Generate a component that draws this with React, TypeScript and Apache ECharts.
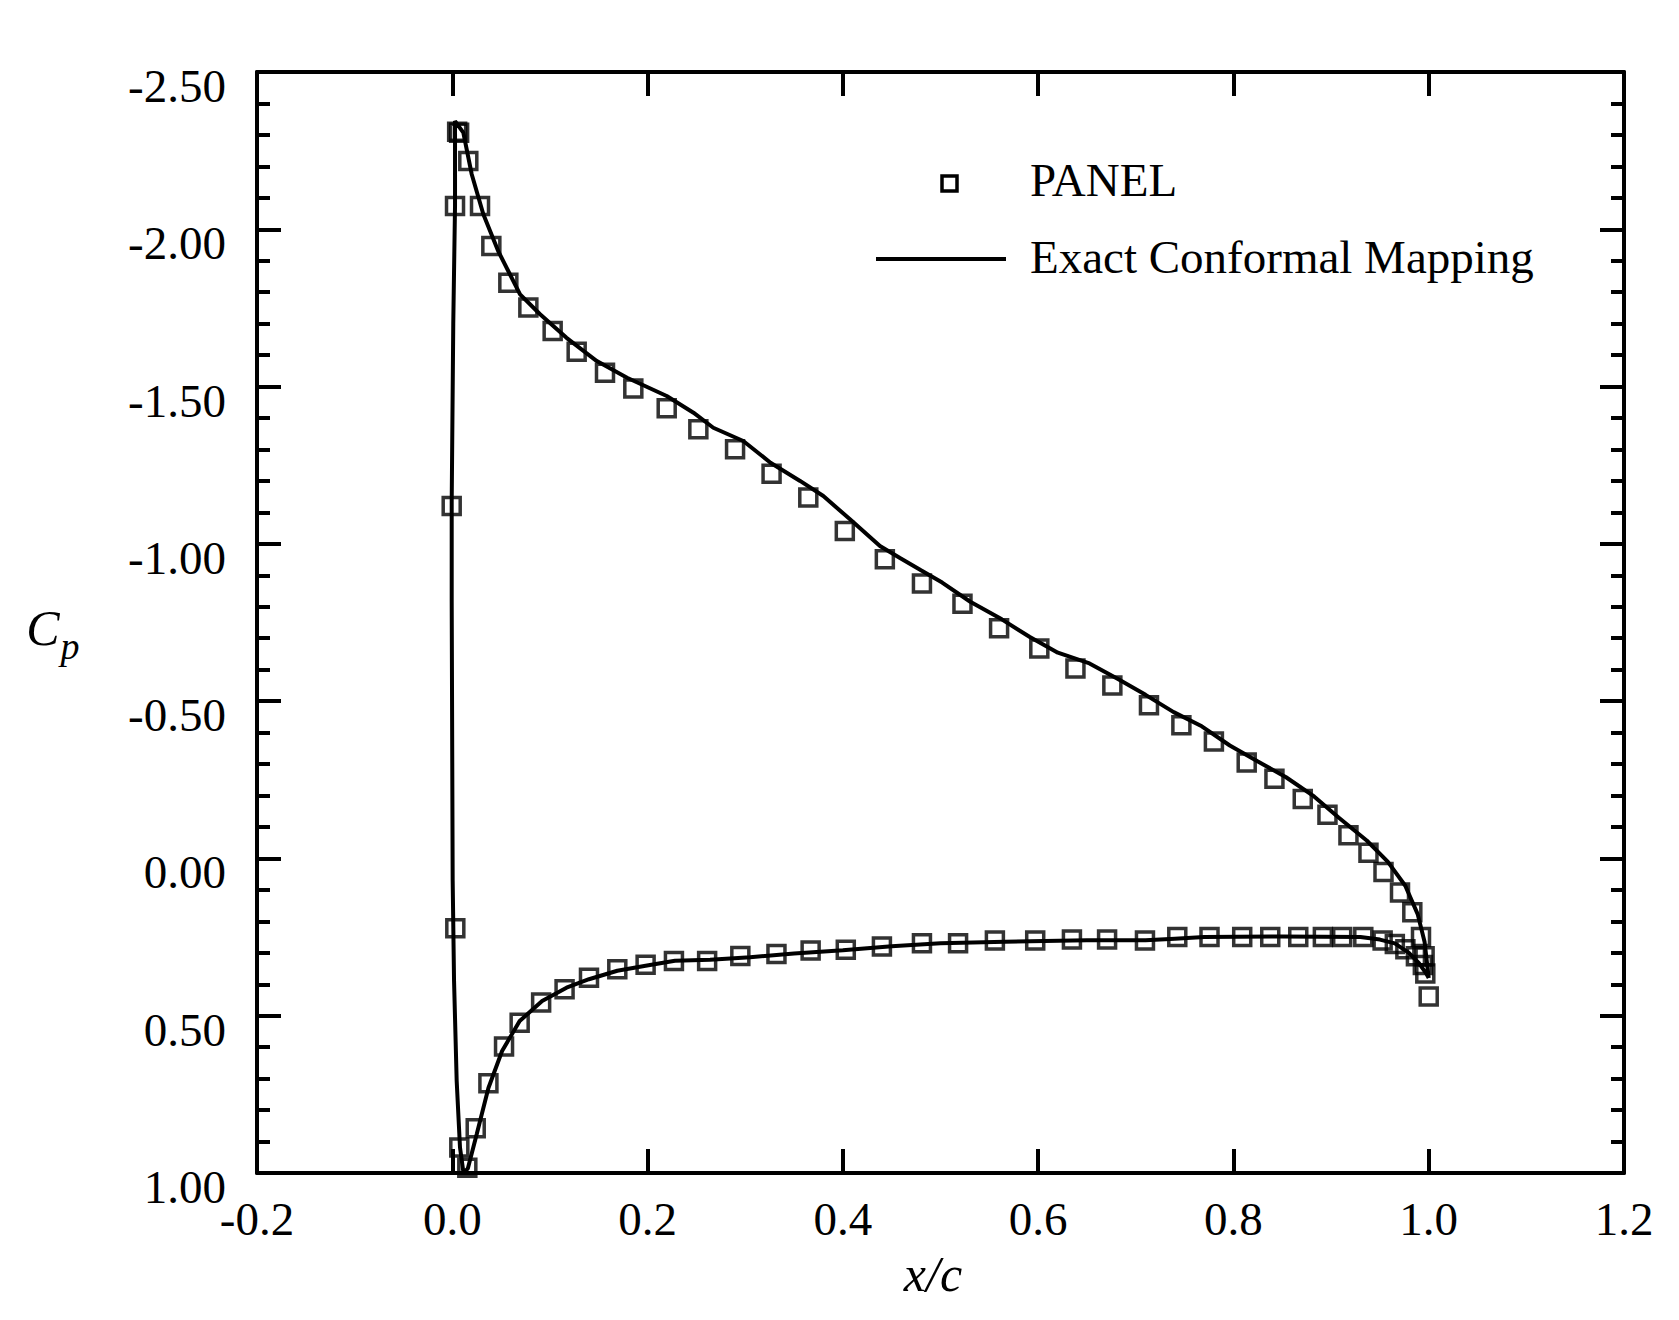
import React, { useEffect, useRef } from 'react';
import * as echarts from 'echarts';

// PANEL method results (squares)
const panelUpperX = [0.005, 0.007, 0.0164, 0.0284, 0.040, 0.0574, 0.0779, 0.1028, 0.1274, 0.1564, 0.1854, 0.2196, 0.252, 0.2896, 0.327, 0.3646, 0.402, 0.443, 0.481, 0.5225, 0.560, 0.6012, 0.6382, 0.676, 0.7135, 0.7467, 0.780, 0.8136, 0.842, 0.871, 0.8963, 0.9178, 0.9383, 0.9537, 0.9706, 0.9832, 0.9921, 0.9958, 0.9965, 1.0];
const panelUpperCp = [-2.31, -2.307, -2.217, -2.074, -1.947, -1.830, -1.751, -1.677, -1.611, -1.544, -1.494, -1.431, -1.364, -1.301, -1.223, -1.147, -1.041, -0.951, -0.874, -0.810, -0.732, -0.667, -0.604, -0.550, -0.487, -0.423, -0.372, -0.305, -0.253, -0.189, -0.139, -0.074, -0.018, 0.043, 0.108, 0.171, 0.250, 0.311, 0.366, 0.439];
const panelNoseX = [0.0028, -0.0006, 0.0031, 0.0072];
const panelNoseCp = [-2.074, -1.120, 0.222, 0.919];
const panelLowerX = [0.0154, 0.024, 0.037, 0.053, 0.069, 0.091, 0.115, 0.140, 0.169, 0.198, 0.227, 0.261, 0.295, 0.332, 0.367, 0.403, 0.440, 0.481, 0.518, 0.5557, 0.597, 0.6346, 0.6706, 0.7094, 0.7425, 0.7755, 0.809, 0.8377, 0.8664, 0.8916, 0.9114, 0.933, 0.9528, 0.9653, 0.9761, 0.9869, 0.994];
const panelLowerCp = [0.983, 0.858, 0.715, 0.598, 0.522, 0.458, 0.416, 0.379, 0.352, 0.338, 0.326, 0.326, 0.310, 0.304, 0.293, 0.290, 0.280, 0.27, 0.27, 0.261, 0.261, 0.258, 0.258, 0.261, 0.250, 0.250, 0.25, 0.25, 0.25, 0.25, 0.25, 0.25, 0.261, 0.272, 0.289, 0.311, 0.339];

// Exact conformal mapping (solid line)
const exactLowerX = [0.0115, 0.016, 0.025, 0.037, 0.051, 0.069, 0.092, 0.117, 0.140, 0.169, 0.198, 0.228, 0.264, 0.305, 0.35, 0.4, 0.45, 0.5, 0.566, 0.65, 0.71, 0.74, 0.77, 0.85, 0.93, 0.95, 0.9653, 0.9797, 0.990, 0.9975, 1.0];
const exactLowerCp = [1.0, 0.985, 0.877, 0.73, 0.612, 0.517, 0.453, 0.411, 0.384, 0.357, 0.341, 0.325, 0.322, 0.314, 0.302, 0.292, 0.279, 0.27, 0.265, 0.26, 0.26, 0.255, 0.25, 0.248, 0.25, 0.258, 0.27, 0.30, 0.333, 0.366, 0.38];
const exactNoseX = [0.0079, 0.0045, 0.0018, 0.0004, -0.0006, -0.0006, 0.0010, 0.0028];
const exactNoseCp = [0.919, 0.707, 0.389, 0.071, -0.818, -1.136, -1.70, -2.074];
const exactUpperX = [0.0028, 0.0113, 0.0199, 0.0318, 0.047, 0.0694, 0.0899, 0.117, 0.148, 0.179, 0.2196, 0.247, 0.2673, 0.298, 0.3259, 0.3562, 0.380, 0.4073, 0.438, 0.4585, 0.480, 0.5017, 0.5305, 0.5628, 0.5915, 0.6202, 0.6526, 0.6813, 0.710, 0.7388, 0.7676, 0.7963, 0.8251, 0.8539, 0.8826, 0.9077, 0.9365, 0.958, 0.976, 0.9887, 0.9958, 1.0];
const exactUpperCp = [-2.344, -2.307, -2.175, -2.048, -1.931, -1.793, -1.730, -1.655, -1.581, -1.528, -1.470, -1.417, -1.369, -1.327, -1.258, -1.200, -1.152, -1.078, -0.993, -0.955, -0.916, -0.877, -0.816, -0.760, -0.704, -0.654, -0.620, -0.571, -0.520, -0.465, -0.420, -0.359, -0.308, -0.258, -0.197, -0.130, -0.057, 0.010, 0.087, 0.177, 0.266, 0.38];

const FONT = 'Liberation Serif';

const zip = (xs: number[], ys: number[]) => xs.map((x, i) => [x, ys[i]]);

const App: React.FC = () => {
  const chartRef = useRef<HTMLDivElement>(null);

  useEffect(() => {
    document.body.style.margin = '0';
    const chart = echarts.init(chartRef.current!, null, { renderer: 'svg' });

    const panelData = [
      ...zip(panelUpperX, panelUpperCp),
      ...zip(panelNoseX, panelNoseCp),
      ...zip(panelLowerX, panelLowerCp),
    ];
    // trailing edge -> lower surface -> nose -> upper surface -> trailing edge
    const exactData = [
      ...zip(exactLowerX, exactLowerCp).reverse(),
      ...zip(exactNoseX, exactNoseCp),
      ...zip(exactUpperX, exactUpperCp),
    ];

    const line = { color: '#000', width: 4 };
    const xBase = {
      type: 'value',
      min: -0.2,
      max: 1.2,
      interval: 0.2,
      axisLine: { show: true, onZero: false, lineStyle: line },
      axisTick: { show: true, inside: true, length: 24, lineStyle: line },
      splitLine: { show: false },
    };
    const yBase = {
      type: 'value',
      inverse: true,
      min: -2.5,
      max: 1.0,
      interval: 0.5,
      axisLine: { show: true, onZero: false, lineStyle: line },
      axisTick: { show: true, inside: true, length: 24, lineStyle: line },
      minorTick: { show: true, splitNumber: 5, length: 13, lineStyle: line },
      splitLine: { show: false },
      minorSplitLine: { show: false },
    };

    const options = {
      animation: false,
      backgroundColor: '#fff',
      grid: { left: 257, top: 72, width: 1367, height: 1101 },
      xAxis: [
        {
          ...xBase,
          position: 'bottom',
          axisLabel: {
            color: '#000',
            fontFamily: FONT,
            fontSize: 47,
            margin: 22,
            formatter: (v: number) => v.toFixed(1),
          },
        },
        { ...xBase, position: 'top', axisLabel: { show: false } },
      ],
      yAxis: [
        {
          ...yBase,
          position: 'left',
          axisLabel: {
            color: '#000',
            fontFamily: FONT,
            fontSize: 47,
            margin: 31,
            verticalAlign: 'top',
            lineHeight: 28,
            formatter: (v: number) => v.toFixed(2),
          },
        },
        { ...yBase, position: 'right', axisLabel: { show: false } },
      ],
      series: [
        {
          name: 'Exact Conformal Mapping',
          type: 'line',
          data: exactData,
          showSymbol: false,
          symbol: 'none',
          smooth: false,
          lineStyle: { color: '#000', width: 4 },
          z: 2,
        },
        {
          name: 'PANEL',
          type: 'scatter',
          data: panelData,
          symbol: 'rect',
          symbolSize: 17,
          itemStyle: { color: 'rgba(0,0,0,0)', borderColor: '#000', borderWidth: 3.5 },
          z: 3,
        },
      ],
      graphic: [
        {
          type: 'rect',
          shape: { x: 942, y: 176, width: 15, height: 15 },
          style: { fill: 'none', stroke: '#000', lineWidth: 3.5 },
        },
        {
          type: 'text',
          x: 1030,
          y: 180,
          style: { text: 'PANEL', font: `47px "${FONT}"`, fill: '#000', verticalAlign: 'middle' },
        },
        {
          type: 'line',
          shape: { x1: 876, y1: 259, x2: 1006, y2: 259 },
          style: { stroke: '#000', lineWidth: 4 },
        },
        {
          type: 'text',
          x: 1030,
          y: 257,
          style: { text: 'Exact Conformal Mapping', font: `47px "${FONT}"`, fill: '#000', verticalAlign: 'middle' },
        },
        {
          type: 'text',
          x: 43,
          y: 628,
          style: { text: 'C', font: `italic 50px "${FONT}"`, fill: '#000', align: 'center', verticalAlign: 'middle' },
        },
        {
          type: 'text',
          x: 70,
          y: 646,
          style: { text: 'p', font: `italic 38px "${FONT}"`, fill: '#000', align: 'center', verticalAlign: 'middle' },
        },
        {
          type: 'text',
          x: 933,
          y: 1274,
          style: { text: 'x/c', font: `italic 50px "${FONT}"`, fill: '#000', align: 'center', verticalAlign: 'middle' },
        },
      ],
    };

    chart.setOption(options as any);

    return () => {
      chart.dispose();
    };
  }, []);

  return <div ref={chartRef} style={{ width: '1679px', height: '1320px' }}></div>;
};

export default App;
